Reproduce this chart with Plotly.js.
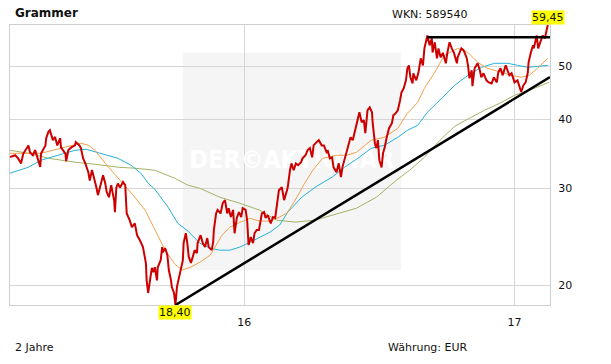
<!DOCTYPE html>
<html>
<head>
<meta charset="utf-8">
<script src="https://cdn.plot.ly/plotly-3.0.1.min.js"></script>
<style>
html,body{margin:0;padding:0;background:#fff;}
#chart{width:611px;height:364px;}
</style>
</head>
<body>
<div id="chart"></div>
<script>
const stockName = "Grammer";
const wknLabel = "WKN: 589540";
const periodLabel = "2 Jahre";
const currencyLabel = "Währung: EUR";
const watermarkText = "DER©AKTIONÄR";
const xRange = ["2015-02-18", "2017-02-18"];
const xTickVals = ["2016-01-01", "2017-01-01"];
const xTickText = ["16", "17"];
const yTickVals = [20, 30, 40, 50];
const yTickText = ["20", "30", "40", "50"];
const yMin = 18.40;
const yMax = 59.45;

const priceDates = [
"2015-02-18","2015-02-25","2015-03-01","2015-03-05","2015-03-08","2015-03-15","2015-03-17","2015-03-21","2015-03-24","2015-03-28",
"2015-03-31","2015-04-01","2015-04-04","2015-04-07","2015-04-08","2015-04-11","2015-04-13","2015-04-17","2015-04-20","2015-04-23",
"2015-04-27","2015-04-28","2015-05-04","2015-05-05","2015-05-08","2015-05-12","2015-05-17","2015-05-18","2015-05-23","2015-05-25",
"2015-05-28","2015-05-31","2015-06-04","2015-06-06","2015-06-09","2015-06-12","2015-06-15","2015-06-17","2015-06-21","2015-06-24",
"2015-06-27","2015-06-29","2015-07-02","2015-07-05","2015-07-09","2015-07-10","2015-07-12","2015-07-14","2015-07-17","2015-07-21",
"2015-07-24","2015-07-25","2015-07-26","2015-07-30","2015-08-02","2015-08-06","2015-08-09","2015-08-13","2015-08-17","2015-08-21",
"2015-08-22","2015-08-24","2015-08-27","2015-08-29","2015-08-31","2015-09-02","2015-09-05","2015-09-06","2015-09-10","2015-09-12",
"2015-09-13","2015-09-16","2015-09-19","2015-09-21","2015-09-24","2015-09-25","2015-09-28","2015-09-30","2015-10-02","2015-10-05",
"2015-10-07","2015-10-10","2015-10-11","2015-10-14","2015-10-16","2015-10-18","2015-10-21","2015-10-24","2015-10-26","2015-10-29",
"2015-10-30","2015-11-03","2015-11-06","2015-11-09","2015-11-12","2015-11-14","2015-11-18","2015-11-20","2015-11-21","2015-11-24",
"2015-11-26","2015-11-30","2015-12-03","2015-12-06","2015-12-09","2015-12-11","2015-12-14","2015-12-17","2015-12-19","2015-12-22",
"2015-12-25","2015-12-28","2015-12-30","2016-01-03","2016-01-05","2016-01-07","2016-01-10","2016-01-13","2016-01-15","2016-01-18",
"2016-01-21","2016-01-25","2016-01-28","2016-01-30","2016-02-02","2016-02-06","2016-02-09","2016-02-12","2016-02-14","2016-02-17",
"2016-02-21","2016-02-24","2016-02-28","2016-02-29","2016-03-03","2016-03-05","2016-03-08","2016-03-11","2016-03-14","2016-03-18",
"2016-03-20","2016-03-24","2016-03-27","2016-03-30","2016-04-02","2016-04-04","2016-04-08","2016-04-11","2016-04-15","2016-04-18",
"2016-04-22","2016-04-23","2016-04-26","2016-04-29","2016-05-01","2016-05-05","2016-05-08","2016-05-11","2016-05-13","2016-05-16",
"2016-05-19","2016-05-22","2016-05-24","2016-05-27","2016-05-31","2016-06-03","2016-06-05","2016-06-08","2016-06-11","2016-06-13",
"2016-06-16","2016-06-19","2016-06-22","2016-06-23","2016-06-26","2016-06-28","2016-06-30","2016-07-02","2016-07-05","2016-07-07",
"2016-07-09","2016-07-12","2016-07-15","2016-07-19","2016-07-21","2016-07-24","2016-07-27","2016-07-30","2016-08-01","2016-08-04",
"2016-08-07","2016-08-09","2016-08-11","2016-08-13","2016-08-16","2016-08-17","2016-08-21","2016-08-24","2016-08-27","2016-08-30",
"2016-09-01","2016-09-05","2016-09-08","2016-09-11","2016-09-12","2016-09-15","2016-09-18","2016-09-20","2016-09-23","2016-09-26",
"2016-09-30","2016-10-02","2016-10-05","2016-10-08","2016-10-11","2016-10-15","2016-10-16","2016-10-21","2016-10-24","2016-10-28",
"2016-10-30","2016-11-01","2016-11-04","2016-11-05","2016-11-08","2016-11-12","2016-11-15","2016-11-17","2016-11-20","2016-11-24",
"2016-11-27","2016-12-01","2016-12-04","2016-12-08","2016-12-10","2016-12-13","2016-12-16","2016-12-20","2016-12-23","2016-12-25",
"2016-12-28","2017-01-01","2017-01-05","2017-01-08","2017-01-10","2017-01-13","2017-01-16","2017-01-19","2017-01-20","2017-01-23",
"2017-01-26","2017-01-27","2017-01-29","2017-01-31","2017-02-02","2017-02-05","2017-02-08","2017-02-11","2017-02-13","2017-02-15"
];
const priceValues = [
34.2,34.45,34.0,33.3,34.7,35.9,34.9,34.45,35.2,33.7,
32.8,34.7,35.2,35.9,37.0,38.0,38.25,36.7,37.2,35.9,
37.0,35.6,34.7,33.6,35.2,35.6,35.9,36.4,35.9,35.5,
34.0,33.3,32.1,31.0,32.4,31.4,30.1,29.15,30.4,31.7,
30.6,29.5,28.9,30.4,28.5,27.15,30.1,30.6,30.1,30.8,
30.4,29.15,27.0,26.25,25.5,25.9,24.65,24.1,23.45,21.9,
20.4,19.35,20.7,21.5,21.1,21.55,20.4,21.55,22.2,23.45,
22.95,23.35,22.7,21.3,20.4,19.85,19.35,18.40,19.85,20.7,
21.3,22.2,23.85,24.85,23.85,22.5,21.95,22.7,23.15,22.85,
23.85,24.65,23.85,23.45,24.35,23.45,23.15,23.95,25.2,27.0,
27.4,27.0,28.2,28.55,27.0,27.6,26.6,27.4,24.85,26.5,
27.15,26.6,27.6,27.4,26.25,23.65,24.45,23.85,24.85,25.2,
25.2,27.0,27.15,26.5,26.8,25.9,26.6,26.5,27.7,29.75,
30.15,28.55,29.75,30.15,32.35,33.3,32.35,33.3,33.05,33.45,
34.0,34.45,35.2,35.5,34.15,35.9,36.4,36.7,35.9,35.9,
34.75,35.2,34.0,34.15,32.75,32.1,33.3,31.45,32.75,34.0,
35.2,36.2,37.15,36.7,38.75,39.9,41.25,39.55,39.9,37.8,
41.6,42.1,41.25,39.4,36.2,35.5,36.7,33.75,32.75,34.75,
35.5,37.15,38.55,39.4,40.75,41.05,41.6,43.35,44.85,45.6,
47.15,49.6,50.2,47.75,46.55,48.55,47.15,48.75,51.7,50.2,
53.9,56.9,54.6,56.2,53.0,55.3,51.7,53.9,51.9,52.9,
50.65,52.9,55.3,53.9,52.9,50.65,51.9,53.9,53.5,51.9,
50.2,47.55,49.2,46.0,49.6,50.65,49.2,47.75,48.55,47.15,
46.75,46.55,47.75,46.75,48.75,49.6,48.15,50.2,49.15,48.15,
48.55,46.75,47.15,46.0,44.9,46.2,46.75,48.75,50.85,52.9,
54.6,53.9,55.3,56.9,53.9,55.3,56.9,56.2,58.15,59.45
];

const avgShortDates = ["2015-02-18","2015-04-01","2015-05-03","2015-05-25","2015-06-04","2015-06-13","2015-06-27","2015-07-14","2015-08-06","2015-08-20",
"2015-09-02","2015-09-16","2015-09-29","2015-10-09","2015-10-20","2015-11-02","2015-11-16","2015-11-22","2015-12-02","2015-12-13",
"2015-12-26","2016-01-09","2016-01-22","2016-02-05","2016-02-18","2016-02-28","2016-03-10","2016-03-23","2016-04-03","2016-04-16",
"2016-05-05","2016-05-19","2016-06-01","2016-06-21","2016-07-09","2016-07-27","2016-08-09","2016-08-23","2016-09-01","2016-09-15",
"2016-09-28","2016-10-16","2016-10-30","2016-11-12","2016-11-25","2016-12-14","2016-12-28","2017-01-10","2017-01-21","2017-02-01","2017-02-15"];
const avgShortValues = [34.74,34.74,35.63,36.23,35.93,35.18,33.3,31.4,28.9,27.37,
25.18,23.15,21.85,21.3,21.55,22.0,22.67,23.45,24.65,25.5,
26.0,26.45,26.15,26.15,26.6,27.05,28.54,30.65,32.36,34.0,
34.45,34.45,34.9,36.69,37.15,38.57,41.07,43.0,45.6,48.77,
52.36,53.9,53.0,50.85,49.6,48.77,48.15,47.75,48.15,49.6,51.7];

const avgMidDates = ["2015-02-18","2015-03-15","2015-04-01","2015-04-24","2015-05-17","2015-06-01","2015-06-21","2015-07-14","2015-08-01","2015-08-14",
"2015-08-24","2015-09-02","2015-09-20","2015-10-03","2015-10-17","2015-11-02","2015-11-16","2015-11-29","2015-12-13","2015-12-26",
"2016-01-09","2016-01-22","2016-02-05","2016-02-18","2016-02-29","2016-03-19","2016-04-06","2016-04-29","2016-05-16","2016-06-03",
"2016-06-21","2016-07-09","2016-07-27","2016-08-09","2016-08-23","2016-09-05","2016-09-24","2016-10-12","2016-10-30","2016-11-17",
"2016-12-05","2016-12-23","2017-01-05","2017-01-19","2017-02-01","2017-02-15"];
const avgMidValues = [31.96,32.77,33.74,34.45,35.18,35.33,34.74,34.02,33.04,31.96,
30.65,29.88,27.72,25.92,25.07,23.84,23.35,23.15,23.15,23.45,
23.94,24.45,24.97,25.71,27.15,28.9,30.13,31.43,32.77,34.02,
35.48,35.93,37.15,38.25,39.06,41.24,43.73,46.18,48.15,49.79,
50.64,50.64,50.21,49.79,50.0,50.21];

const avgLongDates = ["2015-02-18","2015-03-15","2015-04-11","2015-05-17","2015-06-13","2015-07-14","2015-08-06","2015-09-02","2015-09-29","2015-10-17",
"2015-11-02","2015-11-29","2015-12-26","2016-01-22","2016-02-14","2016-03-10","2016-04-06","2016-05-09","2016-06-01","2016-06-28",
"2016-07-25","2016-08-12","2016-09-01","2016-09-22","2016-10-12","2016-11-01","2016-11-21","2016-12-12","2017-01-01","2017-01-21","2017-02-17"];
const avgLongValues = [35.18,34.74,34.02,33.46,33.18,32.77,32.63,32.36,31.29,30.39,
30.0,28.9,28.18,27.37,26.25,26.04,26.25,27.03,27.6,28.9,
31.03,32.36,34.16,36.69,38.9,40.23,41.59,42.83,44.29,45.22,46.77];

const supportDates = ["2015-09-30", "2017-02-18"];
const supportValues = [18.40, 47.8];
const resistanceDates = ["2016-09-05", "2017-02-18"];
const resistanceValues = [56.5, 56.5];

const lowDate = "2015-09-30", lowValue = 18.40, lowLabel = "18,40";
const lastDate = "2017-02-15", lastValue = 59.45, lastLabel = "59,45";

const FONT = "DejaVu Sans, Verdana, sans-serif";

// watermark position derived from the axis ranges (fractions of the plot area)
const t0 = new Date(xRange[0] + "T00:00:00Z").getTime();
const t1 = new Date(xRange[1] + "T00:00:00Z").getTime();
const wmX = new Date(t0 + 0.522 * (t1 - t0)).toISOString().slice(0, 19).replace("T", " ");
const wmY = Math.pow(10, Math.log10(yMin) + 0.51 * (Math.log10(yMax) - Math.log10(yMin)));

const traces = [
  {x: [wmX], y: [wmY], type: "scatter", mode: "text", text: ["<b>" + watermarkText + "</b>"],
   textposition: "middle center", cliponaxis: false,
   textfont: {family: "DejaVu Sans Condensed, DejaVu Sans, sans-serif", size: 25, color: "#ffffff"},
   hoverinfo: "skip"},
  {x: avgLongDates, y: avgLongValues, type: "scatter", mode: "lines",
   line: {color: "#a3b366", width: 1}, hoverinfo: "skip"},
  {x: avgMidDates, y: avgMidValues, type: "scatter", mode: "lines",
   line: {color: "#25b2d6", width: 1}, hoverinfo: "skip"},
  {x: avgShortDates, y: avgShortValues, type: "scatter", mode: "lines",
   line: {color: "#f2a04e", width: 1}, hoverinfo: "skip"},
  {x: priceDates, y: priceValues, type: "scatter", mode: "lines",
   line: {color: "#cc0000", width: 2}, hoverinfo: "skip"},
  {x: supportDates, y: supportValues, type: "scatter", mode: "lines",
   line: {color: "#000000", width: 2.5}, hoverinfo: "skip"},
  {x: resistanceDates, y: resistanceValues, type: "scatter", mode: "lines",
   line: {color: "#000000", width: 2.5}, hoverinfo: "skip"}
];

const layout = {
  width: 611, height: 364,
  margin: {l: 10, r: 61, t: 25, b: 59},
  paper_bgcolor: "#ffffff", plot_bgcolor: "#ffffff",
  showlegend: false,
  font: {family: FONT, size: 11, color: "#111111"},
  xaxis: {
    type: "date", range: xRange,
    tickvals: xTickVals, ticktext: xTickText,
    showgrid: true, gridcolor: "#d6d6d6", gridwidth: 1,
    showline: true, linecolor: "#cfcfcf", linewidth: 1, mirror: true,
    ticks: "outside", ticklen: 7, tickcolor: "rgba(0,0,0,0)",
    zeroline: false, fixedrange: true,
    tickfont: {family: FONT, size: 11, color: "#111111"}
  },
  yaxis: {
    type: "log", range: [Math.log10(yMin), Math.log10(yMax)],
    side: "right",
    tickvals: yTickVals, ticktext: yTickText,
    showgrid: true, gridcolor: "#d6d6d6", gridwidth: 1,
    showline: true, linecolor: "#cfcfcf", linewidth: 1, mirror: true,
    ticks: "outside", ticklen: 5, tickcolor: "rgba(0,0,0,0)",
    zeroline: false, fixedrange: true,
    tickfont: {family: FONT, size: 11, color: "#111111"}
  },
  shapes: [
    {type: "rect", xref: "paper", yref: "paper", x0: 0.320, x1: 0.724, y0: 0.125, y1: 0.90,
     fillcolor: "#f5f5f5", line: {width: 0}, layer: "below"}
  ],
  annotations: [
    {text: "<b>" + stockName + "</b>", xref: "paper", yref: "paper", x: 0.005, y: 1.043,
     xanchor: "left", yanchor: "middle", showarrow: false,
     font: {family: FONT, size: 12, color: "#111111"}},
    {text: wknLabel, xref: "paper", yref: "paper", x: 0.778, y: 1.039,
     xanchor: "center", yanchor: "middle", showarrow: false,
     font: {family: FONT, size: 11, color: "#111111"}},
    {text: periodLabel, xref: "paper", yref: "paper", x: 0.005, y: -0.15,
     xanchor: "left", yanchor: "middle", showarrow: false,
     font: {family: FONT, size: 11, color: "#111111"}},
    {text: currencyLabel, xref: "paper", yref: "paper", x: 0.774, y: -0.15,
     xanchor: "center", yanchor: "middle", showarrow: false,
     font: {family: FONT, size: 11, color: "#111111"}},
    {text: lastLabel, x: lastDate, y: Math.log10(lastValue), xref: "x", yref: "y",
     xanchor: "center", yanchor: "bottom", showarrow: false, bgcolor: "#ffff00",
     borderpad: 0, yshift: 0,
     font: {family: FONT, size: 11, color: "#111111"}},
    {text: lowLabel, x: lowDate, y: Math.log10(lowValue), xref: "x", yref: "y",
     xanchor: "center", yanchor: "top", showarrow: false, bgcolor: "#ffff00",
     borderpad: 0, yshift: 0,
     font: {family: FONT, size: 11, color: "#111111"}}
  ]
};

Plotly.newPlot("chart", traces, layout, {staticPlot: true, displayModeBar: false});
</script>
</body>
</html>
